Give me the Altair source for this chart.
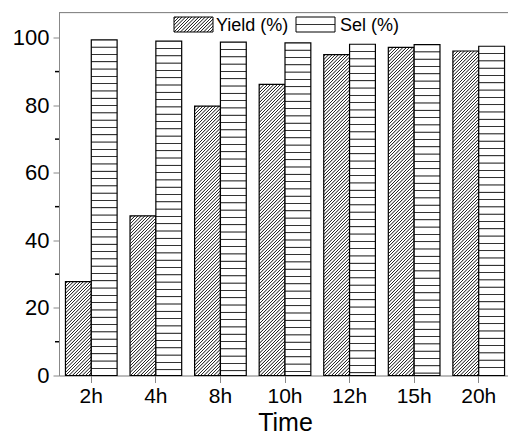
import altair as alt
import pandas as pd

times = ["2h", "4h", "8h", "10h", "12h", "15h", "20h"]
yield_pct = [27.8, 47.3, 79.8, 86.2, 95.0, 97.2, 96.1]
sel_pct = [99.4, 99.0, 98.7, 98.5, 98.1, 98.0, 97.5]
series = ["Yield (%)", "Sel (%)"]
major_ticks = [0, 20, 40, 60, 80, 100]
minor_ticks = [10, 30, 50, 70, 90]

W, H = 452, 363
YMAX = 107.5
FONT = "Liberation Sans"

rows = []
for t, yv, sv in zip(times, yield_pct, sel_pct):
    rows.append({"time": t, "series": series[0], "value": yv})
    rows.append({"time": t, "series": series[1], "value": sv})
df = pd.DataFrame(rows)

step = W / 7.0
bar_w = step * 0.8 / 2


def r5(v):
    return round(min(max(v, 0.0), 1.0), 5)


def hstripes(h, period=7.3, color="#333333"):
    stops = [{"offset": 0, "color": "white"}]
    p = period
    while p < h - 2.0:
        stops += [{"offset": r5((p - 0.85) / h), "color": "white"},
                  {"offset": r5((p - 0.25) / h), "color": color},
                  {"offset": r5((p + 0.25) / h), "color": color},
                  {"offset": r5((p + 0.85) / h), "color": "white"}]
        p += period
    stops.append({"offset": 1, "color": "white"})
    return {"gradient": "linear", "x1": 0, "y1": 0, "x2": 0, "y2": 1, "stops": stops}


def dstripes(w, h, period=3.3, color="#2a2a2a"):
    L = w + h
    s = (w * w + h * h) / L
    a, b = w / s, h / s
    stops = [{"offset": 0, "color": "white"}]
    c = period / 2
    while c < L:
        stops += [{"offset": r5((c - 0.85) / L), "color": "white"},
                  {"offset": r5((c - 0.25) / L), "color": color},
                  {"offset": r5((c + 0.25) / L), "color": color},
                  {"offset": r5((c + 0.85) / L), "color": "white"}]
        c += period
    stops.append({"offset": 1, "color": "white"})
    return {"gradient": "linear", "x1": 0, "y1": 0, "x2": round(a, 5), "y2": round(b, 5), "stops": stops}


x_enc = alt.X("time:N", scale=alt.Scale(domain=times, paddingInner=0.2, paddingOuter=0.1),
              axis=alt.Axis(title="Time", labelAngle=0, labelFontSize=21, titleFontSize=25,
                            labelPadding=3, tickSize=7, titleFontWeight="normal",
                            titleBaseline="alphabetic", titleY=55))
xo_enc = alt.XOffset("series:N", scale=alt.Scale(domain=series, paddingInner=0, paddingOuter=0))
y_axis = alt.Axis(title=None, values=major_ticks, labelFontSize=22, labelPadding=4, tickSize=6, grid=False)
y_scale = alt.Scale(domain=[0, YMAX], nice=False, zero=True)

layers = []
for r in rows:
    h = r["value"] / YMAX * H
    if r["series"] == series[0]:
        grad = dstripes(bar_w, h)
    else:
        grad = hstripes(h)
    layer = alt.Chart(df).transform_filter(
        (alt.datum.time == r["time"]) & (alt.datum.series == r["series"])
    ).mark_bar(fill=grad, stroke="black", strokeWidth=1.2).encode(
        x=x_enc, xOffset=xo_enc,
        y=alt.Y("value:Q", scale=y_scale, axis=y_axis),
    )
    layers.append(layer)

minor = alt.Chart(pd.DataFrame({"v": minor_ticks})).mark_rule(color="black", strokeWidth=1.5).encode(
    y=alt.Y("v:Q", scale=y_scale, axis=y_axis),
    x=alt.value(-4), x2=alt.value(0),
)
one = pd.DataFrame({"k": [0]})
top_border = alt.Chart(one).mark_rule(color="#888888", strokeWidth=1).encode(
    x=alt.value(0), x2=alt.value(W + 10), y=alt.value(0)
)

# legend
lx1, ly1 = 115, 4.5
lw, lh = 39, 15
sx1 = 237
leg_y = alt.Chart(one).mark_rect(fill=dstripes(lw, lh), stroke="black", strokeWidth=1).encode(
    x=alt.value(lx1), x2=alt.value(lx1 + lw), y=alt.value(ly1), y2=alt.value(ly1 + lh))
leg_s = alt.Chart(one).mark_rect(fill=hstripes(lh, period=7.5), stroke="black", strokeWidth=1).encode(
    x=alt.value(sx1), x2=alt.value(sx1 + lw), y=alt.value(ly1), y2=alt.value(ly1 + lh))
txt_y = alt.Chart(one).mark_text(align="left", baseline="middle", fontSize=18, font=FONT, color="black").encode(
    x=alt.value(lx1 + lw + 3), y=alt.value(ly1 + lh / 2 + 1), text=alt.value(series[0]))
txt_s = alt.Chart(one).mark_text(align="left", baseline="middle", fontSize=18, font=FONT, color="black").encode(
    x=alt.value(sx1 + lw + 5), y=alt.value(ly1 + lh / 2 + 1), text=alt.value(series[1]))

chart = alt.layer(*layers, minor, top_border, leg_y, leg_s, txt_y, txt_s).properties(
    width=W, height=H,
    autosize=alt.AutoSizeParams(type="none"),
    padding={"left": 51, "top": 4.5, "right": -3, "bottom": 60.5},
).configure_view(stroke=None).configure_axis(
    domainColor="black", domainWidth=2, tickColor="black", tickWidth=1.5,
    labelColor="black", titleColor="black", labelFont=FONT, titleFont=FONT,
).configure(background="white")

chart.save("out.html", embed_options={"renderer": "svg", "actions": False})
